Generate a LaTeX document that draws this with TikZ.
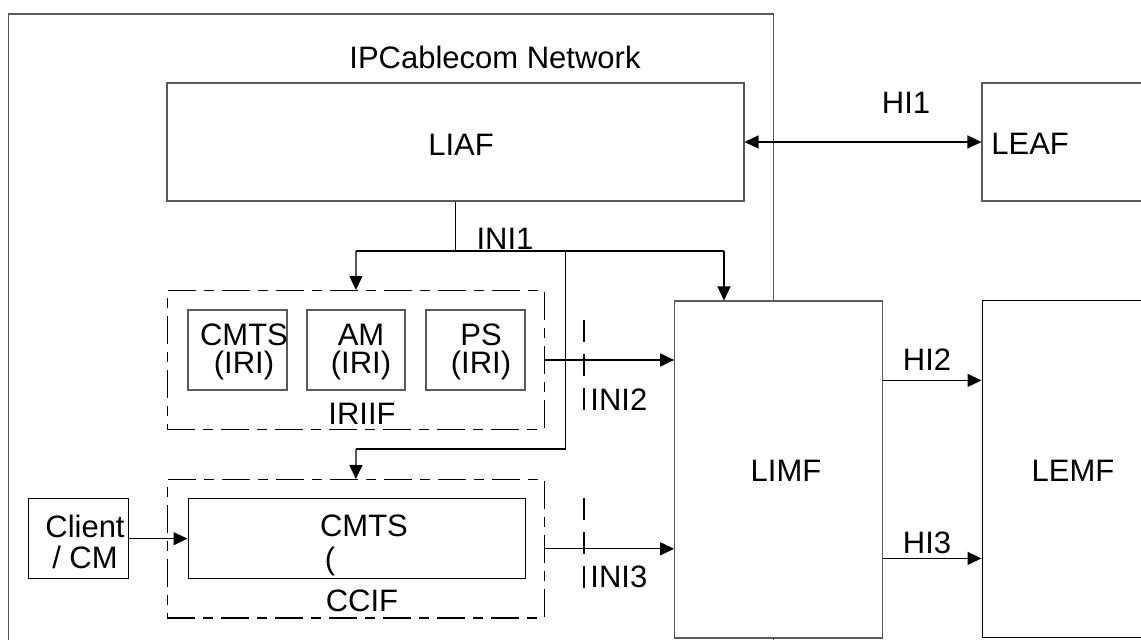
\documentclass[tikz,border=0pt]{standalone}
\usepackage{fontspec}
\setmainfont{Liberation Sans}
\usetikzlibrary{arrows.meta,fit}
\begin{document}
\begin{tikzpicture}[x=0.5pt,y=-0.5pt,
  box/.style={draw=black!65, line width=0.55pt, fill=white, inner sep=0pt},
  ibox/.style={draw=black, line width=0.5pt, fill=white, inner sep=0pt},
  dbox/.style={draw=black, line width=0.6pt, dash pattern=on 14pt off 4pt on 5pt off 4pt, inner sep=0pt},
  lbl/.style={inner sep=0pt, font=\fontsize{15.5}{14}\selectfont, align=center},
  conn/.style={draw=black, line width=0.6pt},
  arr/.style={conn, -{Triangle[length=7pt,width=6.5pt]}},
  darr/.style={conn, {Triangle[length=7pt,width=6.5pt]}-{Triangle[length=7pt,width=6.5pt]}},
  tickline/.style={draw=black, line width=0.6pt, dash pattern=on 11pt off 6pt}]
\useasboundingbox (0,0) rectangle (1141,640);
\clip (0,0) rectangle (1141,640);
% outer network
\node[box, fill=none, fit={(8.7,14) (773.6,700)}] (net) {};
\node[lbl] (tnet) at (495,57) {IPCablecom Network};
% LIAF / LEAF
\node[box, fit={(167,83) (744,201)}] (liaf) {};
\node[lbl] (tliaf) at (461,145) {LIAF};
\node[box, fit={(982,83) (1170,201)}] (leaf) {};
\node[lbl, anchor=west] (tleaf) at (991,144) {LEAF};
\node[lbl] (thi1) at (906,103) {HI1};
\draw[darr] (liaf.east) -- (leaf.west);
% IRIIF
\node[dbox, fit={(167.4,290.6) (544.4,429.4)}] (iriif) {};
\node[box, fit={(188,310) (287,390)}] (b1) {};
\node[box, fit={(307,310) (405,390)}] (b2) {};
\node[box, fit={(426,310) (525,390)}] (b3) {};
\node[lbl] (tb1) at (244,352) {CMTS\\(IRI)};
\node[lbl] (tb2) at (361,352) {AM\\(IRI)};
\node[lbl] (tb3) at (481,352) {PS\\(IRI)};
\node[lbl] (tiriif) at (362,414) {IRIIF};
% CCIF
\node[dbox, fit={(167.4,479.6) (544.4,618)}] (ccif) {};
\node[ibox, fit={(188,499) (525.5,578.4)}] (cmts) {};
\node[lbl] (tcmts) at (364,526) {CMTS};
\node[lbl] (tparen) at (330,561) {(};
\node[lbl] (tccif) at (362,601) {CCIF};
% Client
\node[ibox, fit={(28,499) (128,578.4)}] (client) {};
\node[lbl, font=\fontsize{15.5}{15.5}\selectfont] (tclient) at (85,542) {Client\\/ CM};
% LIMF / LEMF
\node[box, fit={(674.7,301) (882.8,638)}] (limf) {};
\node[lbl] (tlimf) at (786,471) {LIMF};
\node[ibox, fit={(982,301) (1170,638)}] (lemf) {};
\node[lbl] (tlemf) at (1073,471) {LEMF};
% INI1
\coordinate (j1) at (356,251);
\coordinate (j2) at (724,251);
\coordinate (j3) at (565.5,251);
\coordinate (j4) at (565.5,449);
\coordinate (j5) at (356,449);
\draw[conn] (liaf.south) -- (liaf.south |- j1);
\draw[conn] (j1) -- (j2);
\draw[arr] (j1) -- (iriif.north);
\draw[arr] (j2) -- (j2 |- limf.north);
\draw[conn] (j3) -- (j4) -- (j5);
\draw[arr] (j5) -- (ccif.north);
\node[lbl] (tini1) at (505,239) {INI1};
% INI2 / INI3
\draw[arr] (iriif.east) -- (iriif.east -| limf.west);
\draw[arr] (ccif.east) -- (ccif.east -| limf.west);
\draw[arr] (client.east) -- (cmts.west);
\coordinate (k1) at (584,320);
\coordinate (k2) at (584,410);
\coordinate (k3) at (584,498);
\coordinate (k4) at (584,590);
\draw[tickline] (k1) -- (k2);
\draw[tickline] (k3) -- (k4);
\node[lbl, anchor=west] (tini2) at (590,400) {INI2};
\node[lbl, anchor=west] (tini3) at (590,577) {INI3};
% HI2 / HI3
\coordinate (h2) at (882.8,380.4);
\coordinate (h3) at (882.8,558.4);
\draw[arr] (h2) -- (h2 -| lemf.west);
\draw[arr] (h3) -- (h3 -| lemf.west);
\node[lbl] (thi2) at (927,360) {HI2};
\node[lbl] (thi3) at (927,543) {HI3};
\end{tikzpicture}
\end{document}
